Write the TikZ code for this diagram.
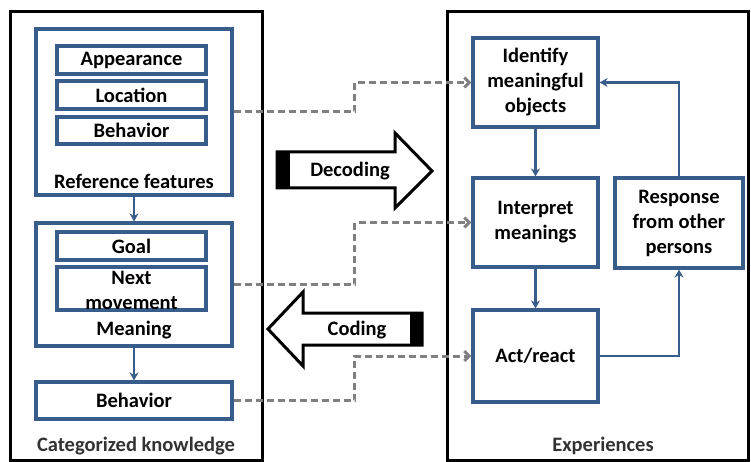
\documentclass[tikz,border=0pt]{standalone}
\usepackage{fontspec}
\setmainfont{Carlito}
\usetikzlibrary{arrows.meta}
\definecolor{boxblue}{RGB}{56,93,138}
\definecolor{dashgray}{RGB}{128,128,128}
\definecolor{labelgray}{RGB}{50,50,50}
\tikzset{
  every node/.style={font=\bfseries\fontsize{20.5}{25}\selectfont, inner sep=0pt, align=center},
  outerbox/.style={draw=black, line width=3pt},
  bluebox/.style={draw=boxblue, line width=3.2pt, fill=white},
  flowarrow/.style={draw=boxblue, line width=2.6pt, -{Stealth[length=8pt,width=9pt]}},
  linkarrow/.style={draw=dashgray, line width=3pt, dash pattern=on 7pt off 4pt,
    -{Straight Barb[length=5pt,width=10pt]}},
  blockarrow/.style={draw=black, line width=3pt, line join=miter, fill=white},
  outerlabel/.style={text=labelgray},
}
\begin{document}
\begin{tikzpicture}[x=1pt,y=-1pt]
\useasboundingbox (0,0) rectangle (751,462);

% two panels
\draw[outerbox] (10,12) rectangle (262,460);
\draw[outerbox] (447,12) rectangle (748,460);
\node[outerlabel] (catlabel) at (136,446) {Categorized knowledge};
\node[outerlabel] (explabel) at (603,446) {Experiences};

% categorized knowledge
\node[bluebox, minimum width=196pt, minimum height=166pt] (ref) at (134,112) {};
\node[bluebox, minimum width=149pt, minimum height=28pt] (app) at (131.5,60) {Appearance};
\node[bluebox, minimum width=149pt, minimum height=28pt] (loc) at (131.5,95) {Location};
\node[bluebox, minimum width=149pt, minimum height=27pt] (behf) at (131.5,130.5) {Behavior};
\node (reflabel) at (134,181) {Reference features};

\node[bluebox, minimum width=196pt, minimum height=123pt] (mean) at (134,284.5) {};
\node[bluebox, minimum width=149pt, minimum height=28pt] (goal) at (131.5,246) {Goal};
\node[bluebox, minimum width=149pt, minimum height=43pt] (nextbox) at (131.5,288.5) {};
\node (nexttext) at (131.5,290) {Next\\movement};
\node (meanlabel) at (134,330) {Meaning};

\node[bluebox, minimum width=196pt, minimum height=37pt] (beh) at (134,400.5) {Behavior};

\draw[flowarrow] (ref.south) -- (mean.north);
\draw[flowarrow] (mean.south) -- (beh.north);

% experiences
\node[bluebox, minimum width=125pt, minimum height=89pt] (ident) at (535.5,82.5) {Identify\\meaningful\\objects};
\node[bluebox, minimum width=125pt, minimum height=89pt] (interp) at (535.5,222.5) {Interpret\\meanings};
\node[bluebox, minimum width=125pt, minimum height=92pt] (act) at (535.5,356) {Act/react};
\node[bluebox, minimum width=128pt, minimum height=90pt] (resp) at (679,223) {Response\\from other\\persons};

\draw[flowarrow] (ident.south) -- (interp.north);
\draw[flowarrow] (interp.south) -- (act.north);
\draw[flowarrow] (act.east) -| (resp.south);
\draw[flowarrow] (resp.north) |- (ident.east);

% links between knowledge and experience
\draw[linkarrow] (ref.east) -- ++(121,0) |- (ident.west);
\draw[linkarrow] (mean.east) -- ++(121,0) |- (interp.west);
\draw[linkarrow] (beh.east) -- ++(121,0) |- (act.west);

% decoding / coding block arrows
\draw[blockarrow] (277,152) -- (395,152) -- (395,133) -- (432,171) -- (395,208)
  -- (395,188) -- (277,188) -- cycle;
\fill[black] (277,152) rectangle (290,188);
\node (dec) at (350,171) {Decoding};

\draw[blockarrow] (422,313) -- (303,313) -- (303,292) -- (268,329) -- (303,366)
  -- (303,345) -- (422,345) -- cycle;
\fill[black] (410,313) rectangle (422,345);
\node (cod) at (357,330) {Coding};
\end{tikzpicture}
\end{document}
